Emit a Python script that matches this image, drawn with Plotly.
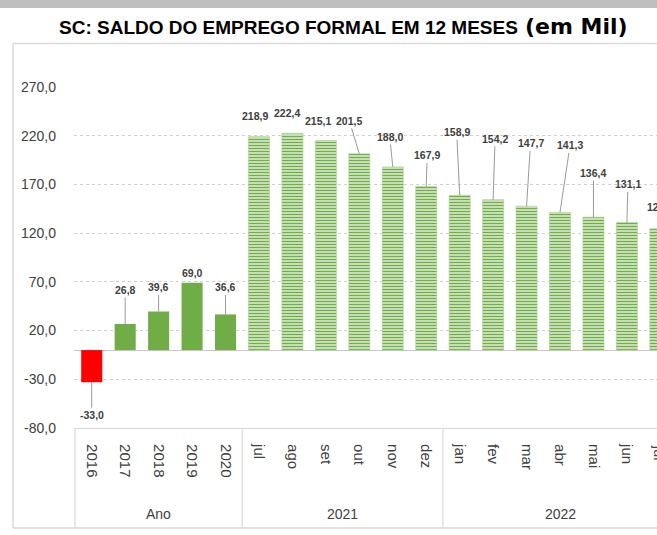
import plotly.graph_objects as go

# ---------------- data ----------------
groups = ["Ano"] * 5 + ["2021"] * 6 + ["2022"] * 7
periods = ["2016", "2017", "2018", "2019", "2020",
           "jul", "ago", "set", "out", "nov", "dez",
           "jan", "fev", "mar", "abr", "mai", "jun", "jul"]
values = [-33.0, 26.8, 39.6, 69.0, 36.6,
          218.9, 222.4, 215.1, 201.5, 188.0, 167.9,
          158.9, 154.2, 147.7, 141.3, 136.4, 131.1, 124.5]
ytick_vals = [-80, -30, 20, 70, 120, 170, 220, 270]

# ---------------- styling / positions ----------------
W, H = 657, 535
ML, MR, MT, MB = 74, 0, 87, 107
PW, PH = W - ML - MR, H - MT - MB
XMIN, XMAX = -0.53, 16.9

def px_x(p):
    return (p - ML) / PW

def px_y(p):
    return (H - MB - p) / PH

def data_to_paper_x(x):
    return (x - XMIN) / (XMAX - XMIN)

# label offsets (pixels, relative to bar end) and whether a leader line is shown
label_offsets = [(0, 33, True), (0, -34, True), (0, -24, True), (0, -10, False), (0, -27, True),
                 (-4, -21, False), (-5, -20, False), (-8, -19, False), (-10, -33, True),
                 (-3, -30, True), (1, -31, True), (-3, -63, True), (2, -61, True),
                 (4, -63, True), (10, -67, True), (0, -44, True), (1, -38, True), (0, -22, False)]

xs = list(range(len(periods)))
n_annual = groups.count("Ano")

def fmt(v):
    return f"{v:.1f}".replace(".", ",")

FONT = "Liberation Sans, Arial, sans-serif"

fig = go.Figure()

# annual bars (solid)
annual_colors = ["#FF0000" if v < 0 else "#70AD47" for v in values[:n_annual]]
fig.add_trace(go.Bar(
    x=xs[:n_annual], y=values[:n_annual], width=0.63,
    marker=dict(color=annual_colors, line=dict(width=0)),
    hoverinfo="skip", showlegend=False))

# monthly bars (striped)
fig.add_trace(go.Bar(
    x=xs[n_annual:], y=values[n_annual:], width=0.63,
    marker=dict(color="#FFFFFF",
                line=dict(color="#A9D18E", width=0.6),
                pattern=dict(shape="-", fgcolor="#70AD47", bgcolor="#FFFFFF",
                             size=3, solidity=0.6, fillmode="replace")),
    hoverinfo="skip", showlegend=False))

label_font = dict(family=FONT, size=10.5, color="#404040")
annotations = []
for x, v, (dx, dy, leader) in zip(xs, values, label_offsets):
    inside = XMIN <= x <= XMAX
    xpos = x if inside else data_to_paper_x(x)
    xr = "x" if inside else "paper"
    if leader:
        annotations.append(dict(x=xpos, y=v, xref=xr, yref="y", text="<b>" + fmt(v) + "</b>",
                                showarrow=True, arrowhead=0, arrowwidth=0.8, arrowcolor="#7F7F7F",
                                ax=dx, ay=dy, standoff=0, font=label_font))
    else:
        annotations.append(dict(x=xpos, y=v, xref=xr, yref="y", text="<b>" + fmt(v) + "</b>",
                                showarrow=False, xshift=dx, yshift=-dy, xanchor="center",
                                yanchor="middle", font=label_font))

# tick labels that fall past the right edge (drawn so they get cut like the original)
for x, p in zip(xs, periods):
    if x > XMAX:
        annotations.append(dict(x=data_to_paper_x(x), y=px_y(443), xref="paper", yref="paper",
                                text=p, textangle=90, showarrow=False, yanchor="top",
                                xanchor="center",
                                font=dict(family=FONT, size=15, color="#404040")))

# group labels
seen = []
for g in groups:
    if g not in seen:
        seen.append(g)
for g in seen:
    idx = [i for i, gg in enumerate(groups) if gg == g]
    center = (idx[0] + idx[-1]) / 2
    annotations.append(dict(x=center, y=px_y(514), xref="x", yref="paper", text=g,
                            showarrow=False, yanchor="middle", xanchor="center",
                            font=dict(family=FONT, size=14, color="#404040")))

# title
annotations.append(dict(x=px_x(520), y=px_y(28), xref="paper", yref="paper",
                        text="<b>SC: SALDO DO EMPREGO FORMAL EM 12 MESES</b>",
                        showarrow=False, xanchor="right", yanchor="middle",
                        font=dict(family=FONT, size=19, color="#000000")))
annotations.append(dict(x=px_x(523), y=px_y(27), xref="paper", yref="paper",
                        text="<b>(em Mil)</b>",
                        showarrow=False, xanchor="left", yanchor="middle",
                        font=dict(family="DejaVu Sans, sans-serif", size=22, color="#000000")))
# source (cut off at the bottom)
annotations.append(dict(x=px_x(8), y=px_y(530), xref="paper", yref="paper",
                        text="Fonte: MTE/CAGED/NOVO CAGED",
                        showarrow=False, xanchor="left", yanchor="top",
                        font=dict(family=FONT, size=17, color="#404040")))

shapes = []
# top grey band
shapes.append(dict(type="rect", xref="paper", yref="paper", x0=px_x(-5), x1=px_x(W + 5),
                   y0=px_y(8), y1=px_y(-5), fillcolor="#BFBFBF", line=dict(width=0), layer="below"))
# chart border
line_col = "#D9D9D9"
shapes.append(dict(type="line", xref="paper", yref="paper", x0=px_x(13), x1=px_x(W + 5),
                   y0=px_y(43.5), y1=px_y(43.5), line=dict(color=line_col, width=1.5)))
shapes.append(dict(type="line", xref="paper", yref="paper", x0=px_x(13), x1=px_x(13),
                   y0=px_y(43.5), y1=px_y(528), line=dict(color=line_col, width=1.5)))
shapes.append(dict(type="line", xref="paper", yref="paper", x0=px_x(13), x1=px_x(W + 5),
                   y0=px_y(528), y1=px_y(528), line=dict(color=line_col, width=1.5)))
# category box dividers
group_bounds = [-0.5] + [i + 0.5 for i in range(len(groups) - 1) if groups[i] != groups[i + 1]]
for b in group_bounds:
    shapes.append(dict(type="line", xref="x", yref="paper", x0=b, x1=b,
                       y0=0, y1=px_y(528), line=dict(color=line_col, width=1.2)))

fig.update_layout(
    width=W, height=H,
    margin=dict(l=ML, r=MR, t=MT, b=MB, pad=0),
    paper_bgcolor="white", plot_bgcolor="white",
    bargap=0.37,
    annotations=annotations, shapes=shapes,
    xaxis=dict(range=[XMIN, XMAX], tickvals=xs, ticktext=periods, tickangle=90,
               showgrid=False, zeroline=False, showline=True, linecolor=line_col, linewidth=1.2,
               ticks="", ticklen=0, ticklabelstandoff=12,
               tickfont=dict(family=FONT, size=15, color="#404040"),
               fixedrange=True),
    yaxis=dict(range=[-80, 270], tickvals=ytick_vals, ticktext=[fmt(v) for v in ytick_vals],
               showgrid=True, gridcolor="#D0D0D0", griddash="dot", gridwidth=1,
               zeroline=True, zerolinecolor="#C8C8C8", zerolinewidth=1.2,
               showline=False, ticks="", ticklabelstandoff=17,
               tickfont=dict(family=FONT, size=14, color="#404040"),
               fixedrange=True),
)

fig.write_html("out.html", config={"displayModeBar": False},
               post_script="document.body.style.margin='0';document.body.style.overflow='hidden';")
